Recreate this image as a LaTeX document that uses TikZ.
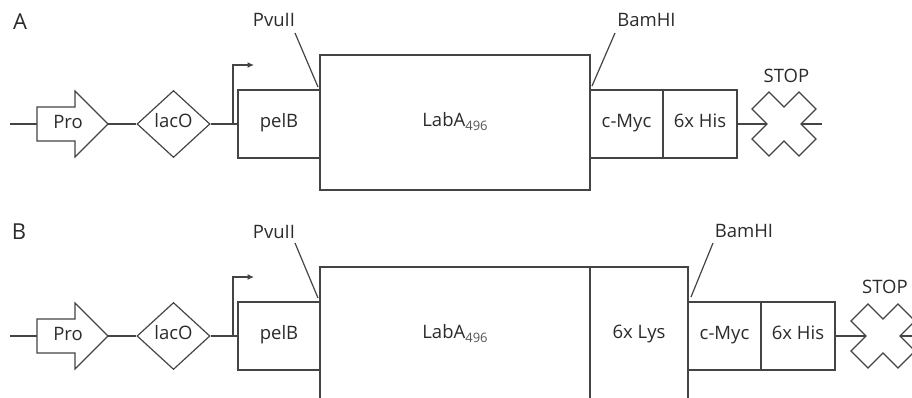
\documentclass[tikz,border=0pt]{standalone}
\usepackage{fontspec}
\setmainfont{Open Sans}
\usetikzlibrary{shapes.geometric,arrows.meta}
\definecolor{ln}{HTML}{444444}
\definecolor{tx}{HTML}{2B2B2B}
\newcommand{\labsub}{LabA\raisebox{-4pt}{\fontsize{13}{13}\selectfont\color{tx!80}496}}
\begin{document}
\begin{tikzpicture}[x=1pt,y=-1pt,
  every node/.style={font=\fontsize{18.5}{22}\selectfont, text=tx, inner sep=0pt, text height=0.7em, text depth=0pt},
  wire/.style={draw=ln, line width=1.2pt},
  seg/.style={draw=ln, line width=1.2pt, fill=white, rectangle},
  dia/.style={diamond, draw=ln, line width=1.2pt, minimum width=73pt, minimum height=67pt},
  tss/.style={wire, -{Latex[length=6.5pt,width=6pt]}},
  panel/.style={font=\fontsize{22}{24}\selectfont}
]
\useasboundingbox (0,0) rectangle (912,397);
\clip (0,0) rectangle (912,397);

% ================= A =================
\node[panel] (labA) at (20,26) {A};
\coordinate (aL) at (10,124);
\coordinate (aProT) at (37,124);
\coordinate (aProH) at (108,124);
\draw[wire] (37,107) -- (75,107) -- (75,91) -- (108,124) -- (75,157) -- (75,141) -- (37,141) -- cycle;
\node (aPro) at (68,125) {Pro};
\node[dia] (aLac) at (173.5,124) {lacO};
\node[seg, minimum width=82pt, minimum height=68pt] (aPel) at (279,124) {pelB};
\node[seg, minimum width=270pt, minimum height=135pt] (aLab) at (455,122.5) {\labsub};
\node[seg, minimum width=73pt, minimum height=68pt] (aMyc) at (626.5,124) {c-Myc};
\node[seg, minimum width=74pt, minimum height=68pt] (aHis) at (700,124) {6x His};
\draw[wire] (784,124) +(-17,0) -- +(-32,-15) -- +(-15,-32) -- +(0,-17) -- +(15,-32) -- +(32,-15)
  -- +(17,0) -- +(32,15) -- +(15,32) -- +(0,17) -- +(-15,32) -- +(-32,15) -- cycle;
\coordinate (aStopL) at (767,124);
\coordinate (aStopR) at (801,124);
\coordinate (aEnd) at (822,124);
\node (aStop) at (786.5,79) {STOP};
\coordinate (aTss) at (233,124);
\coordinate (aTssE) at (254,65);
\node (aPvu) at (274,22.5) {PvuII};
\coordinate (aPvuS) at (295,33);
\coordinate (aPvuE) at (318,87);
\node (aBam) at (646.5,22.5) {BamHI};
\coordinate (aBamS) at (615,33);
\coordinate (aBamE) at (592,86);

\draw[wire] (aL) -- (aProT);
\draw[wire] (aProH) -- (aLac.west);
\draw[wire] (aLac.east) -- (aPel.west);
\draw[wire] (aHis.east) -- (aStopL);
\draw[wire] (aStopR) -- (aEnd);
\draw[tss] (aTss) |- (aTssE);
\draw[wire] (aPvuS) -- (aPvuE);
\draw[wire] (aBamS) -- (aBamE);

% ================= B =================
\node[panel] (labB) at (19,236) {B};
\coordinate (bL) at (10,336);
\coordinate (bProT) at (37,336);
\coordinate (bProH) at (108,336);
\draw[wire] (37,319) -- (75,319) -- (75,303) -- (108,336) -- (75,369) -- (75,353) -- (37,353) -- cycle;
\node (bPro) at (68,337) {Pro};
\node[dia] (bLac) at (173.5,336) {lacO};
\node[seg, minimum width=82pt, minimum height=68pt] (bPel) at (279,336) {pelB};
\node[seg, minimum width=270pt, minimum height=135pt] (bLab) at (455,334.5) {\labsub};
\node[seg, minimum width=98pt, minimum height=135pt] (bLys) at (639,334.5) {6x Lys};
\node[seg, minimum width=73pt, minimum height=68pt] (bMyc) at (724.5,336) {c-Myc};
\node[seg, minimum width=74pt, minimum height=68pt] (bHis) at (798,336) {6x His};
\draw[wire] (883,336) +(-17,0) -- +(-32,-15) -- +(-15,-32) -- +(0,-17) -- +(15,-32) -- +(32,-15)
  -- +(17,0) -- +(32,15) -- +(15,32) -- +(0,17) -- +(-15,32) -- +(-32,15) -- cycle;
\coordinate (bStopL) at (866,336);
\coordinate (bStopR) at (900,336);
\coordinate (bEnd) at (925,336);
\node (bStop) at (885,289.5) {STOP};
\coordinate (bTss) at (233,336);
\coordinate (bTssE) at (254,277);
\node (bPvu) at (274,234.5) {PvuII};
\coordinate (bPvuS) at (295,243);
\coordinate (bPvuE) at (318,298);
\node (bBam) at (744,233.5) {BamHI};
\coordinate (bBamS) at (713,243);
\coordinate (bBamE) at (691,297);

\draw[wire] (bL) -- (bProT);
\draw[wire] (bProH) -- (bLac.west);
\draw[wire] (bLac.east) -- (bPel.west);
\draw[wire] (bHis.east) -- (bStopL);
\draw[wire] (bStopR) -- (bEnd);
\draw[tss] (bTss) |- (bTssE);
\draw[wire] (bPvuS) -- (bPvuE);
\draw[wire] (bBamS) -- (bBamE);
\end{tikzpicture}
\end{document}
